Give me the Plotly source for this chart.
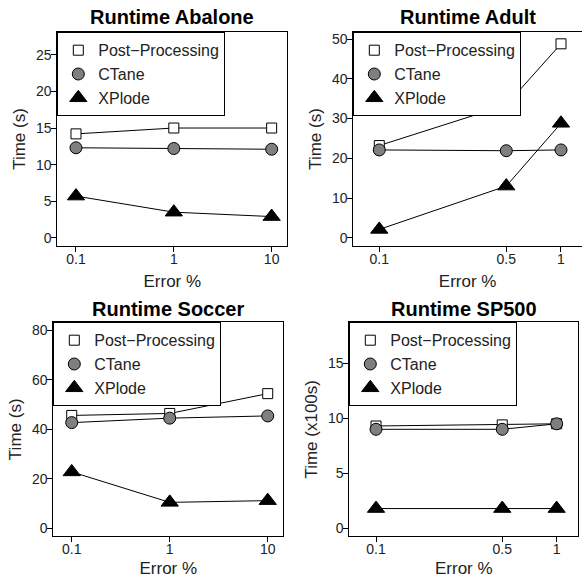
import plotly.graph_objects as go

# ---------------- data ----------------
series_names = ["Post−Processing", "CTane", "XPlode"]

abalone_x = [0.1, 1, 10]
abalone_pp = [14.2, 15.0, 15.0]
abalone_ctane = [12.3, 12.2, 12.1]
abalone_xplode = [5.7, 3.5, 2.9]

adult_x = [0.1, 0.5, 1]
adult_pp = [23.2, 33.4, 48.8]
adult_ctane = [22.1, 21.9, 22.1]
adult_xplode = [2.1, 13.0, 28.8]

soccer_x = [0.1, 1, 10]
soccer_pp = [45.6, 46.4, 54.4]
soccer_ctane = [42.7, 44.5, 45.4]
soccer_xplode = [22.8, 10.5, 11.2]

sp500_x = [0.1, 0.5, 1]
sp500_pp = [9.3, 9.4, 9.5]
sp500_ctane = [9.0, 9.0, 9.5]
sp500_xplode = [1.8, 1.8, 1.8]

titles = ["Runtime Abalone", "Runtime Adult", "Runtime Soccer", "Runtime SP500"]
ytitles = ["Time (s)", "Time (s)", "Time (s)", "Time (x100s)"]
xtitle = "Error %"
xticks_a = [0.1, 1, 10]
xticklabels_a = ["0.1", "1", "10"]
xticks_b = [0.1, 0.5, 1]
xticklabels_b = ["0.1", "0.5", "1"]
yticks = [[0, 5, 10, 15, 20, 25], [0, 10, 20, 30, 40, 50], [0, 20, 40, 60, 80], [0, 5, 10, 15]]

# ---------------- layout geometry ----------------
W, H = 582, 578
FONT = "Liberation Sans, Arial, Helvetica, sans-serif"

panels = [
    dict(x=abalone_x, ys=[abalone_pp, abalone_ctane, abalone_xplode],
         px=(57.3, 287.3), py=(32.3, 245.7), xr=[-1.191, 1.160], yr=[-1.08, 28.08],
         xt=(xticks_a, xticklabels_a), mirror_y=True),
    dict(x=adult_x, ys=[adult_pp, adult_ctane, adult_xplode],
         px=(353.3, 582.0), py=(32.3, 245.7), xr=[-1.143, 0.1156], yr=[-2.0, 51.7],
         xt=(xticks_b, xticklabels_b), mirror_y=False),
    dict(x=soccer_x, ys=[soccer_pp, soccer_ctane, soccer_xplode],
         px=(53.3, 283.3), py=(322.3, 536.3), xr=[-1.188, 1.159], yr=[-3.2, 83.2],
         xt=(xticks_a, xticklabels_a), mirror_y=True),
    dict(x=sp500_x, ys=[sp500_pp, sp500_ctane, sp500_xplode],
         px=(349.3, 578.3), py=(322.3, 536.3), xr=[-1.148, 0.12], yr=[-0.72, 18.72],
         xt=(xticks_b, xticklabels_b), mirror_y=True),
]

styles = [
    dict(symbol="square", size=10, color="white"),
    dict(symbol="circle", size=12, color="#7f7f7f"),
    dict(symbol="triangle-up", size=15, color="black"),
]

fig = go.Figure()
layout = dict(
    width=W, height=H, margin=dict(l=0, r=0, t=0, b=0, pad=0, autoexpand=False),
    paper_bgcolor="white", plot_bgcolor="white",
    font=dict(family=FONT, color="black"),
    showlegend=True, annotations=[],
)

for i, p in enumerate(panels):
    k = "" if i == 0 else str(i + 1)
    xa, ya = "x" + k, "y" + k
    lg = "legend" + k
    for j, (name, st) in enumerate(zip(series_names, styles)):
        fig.add_trace(go.Scatter(
            x=p["x"], y=p["ys"][j], mode="lines+markers", name=name,
            xaxis=xa, yaxis=ya, legend=lg, showlegend=False, cliponaxis=False,
            line=dict(color="black", width=1),
            marker=dict(symbol=st["symbol"], size=st["size"], color=st["color"],
                        line=dict(color="black", width=1)),
        ))
    for j, (name, st) in enumerate(zip(series_names, styles)):
        fig.add_trace(go.Scatter(
            x=[None], y=[None], mode="markers", name=name,
            xaxis=xa, yaxis=ya, legend=lg, showlegend=True,
            marker=dict(symbol=st["symbol"], size=st["size"], color=st["color"],
                        line=dict(color="black", width=1)),
        ))
    dx = [p["px"][0] / W, p["px"][1] / W]
    dy = [1 - p["py"][1] / H, 1 - p["py"][0] / H]
    common = dict(showgrid=False, zeroline=False, showline=True, linecolor="black",
                  linewidth=1, ticks="outside", ticklen=5, tickwidth=1,
                  automargin=False,
                  tickcolor="black", tickfont=dict(size=14, family=FONT, color="#222"))
    layout["xaxis" + k] = dict(common, type="log", domain=dx, range=p["xr"],
                               tickvals=p["xt"][0], ticktext=p["xt"][1],
                               anchor=ya, ticklabelstandoff=-5, mirror=True,
                               title=dict(text=xtitle, font=dict(size=17, family=FONT, color="#222"), standoff=9))
    layout["yaxis" + k] = dict(common, domain=dy, range=p["yr"], tickvals=yticks[i],
                               anchor=xa, ticklabelstandoff=-3, mirror=p["mirror_y"],
                               title=dict(text=ytitles[i], font=dict(size=17, family=FONT, color="#222"), standoff=5))
    layout[lg] = dict(x=dx[0], y=dy[1], xanchor="left", yanchor="top",
                      bgcolor="white", bordercolor="black", borderwidth=1,
                      font=dict(size=16, family=FONT, color="#222"),
                      itemsizing="trace", tracegroupgap=0)
    layout["annotations"].append(dict(
        text="<b>" + titles[i] + "</b>", x=(dx[0] + dx[1]) / 2,
        y=1 - (16.7 if i < 2 else 308.7) / H, xref="paper", yref="paper",
        xanchor="center", yanchor="middle", showarrow=False,
        font=dict(size=20, family=FONT, color="black")))

fig.update_layout(**layout)
fig.write_html("out.html", config={"displayModeBar": False},
               post_script="document.body.style.margin='0';document.body.style.overflow='hidden';")
